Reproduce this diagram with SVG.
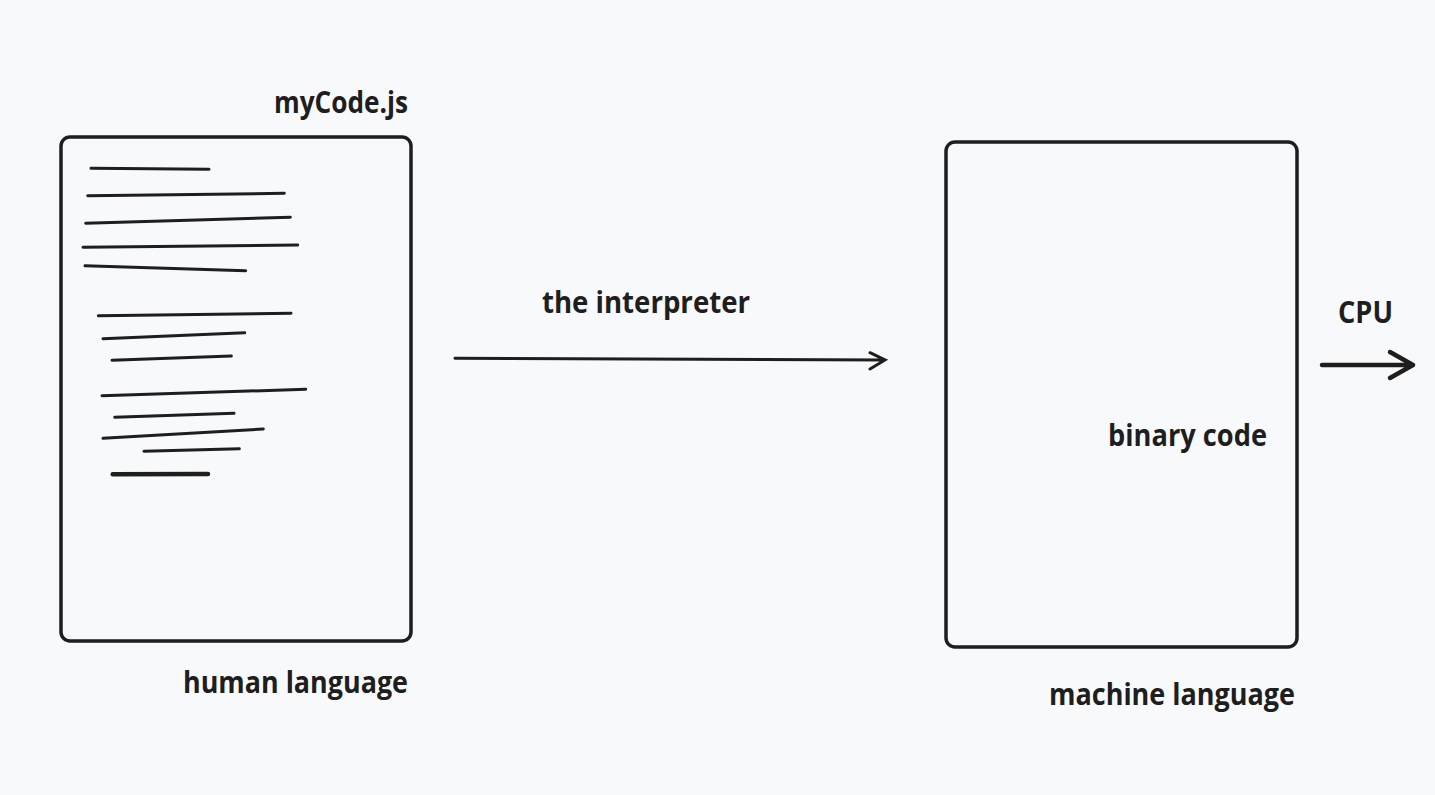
<svg xmlns="http://www.w3.org/2000/svg" width="1435" height="795" viewBox="0 0 1435 795">
<style>
.bg{fill:#f8f9fa}
.box{fill:none;stroke:#1e1e1e;stroke-width:3.5;stroke-linejoin:round}
.ln{fill:none;stroke:#1e1e1e;stroke-width:3;stroke-linecap:round}
.lbl{font-family:"Open Sans","Noto Sans",sans-serif;font-weight:700;fill:#1e1e1e;font-size:30px}
</style>
<rect class="bg" x="0" y="0" width="1435" height="795"/>
<g id="source-file">
<rect class="box" x="61" y="137" width="350" height="504" rx="9"/>
<text class="lbl" x="274" y="113" textLength="134" lengthAdjust="spacingAndGlyphs">myCode.js</text>
<g id="code-lines">
<line class="ln" x1="91" y1="168.3" x2="209" y2="169.3"/>
<line class="ln" x1="87.7" y1="195.7" x2="284.3" y2="193.3"/>
<line class="ln" x1="85.7" y1="223.3" x2="290.3" y2="217.3"/>
<line class="ln" x1="83" y1="247.3" x2="297.7" y2="245"/>
<line class="ln" x1="85" y1="265.7" x2="245.7" y2="270.7"/>
<line class="ln" x1="98.3" y1="315.7" x2="291" y2="313.3"/>
<line class="ln" x1="103" y1="338.7" x2="244.7" y2="332.7"/>
<line class="ln" x1="112" y1="360.3" x2="231.3" y2="356"/>
<line class="ln" x1="102" y1="395.7" x2="305.7" y2="389.3"/>
<line class="ln" x1="114.7" y1="417.3" x2="234" y2="413.3"/>
<line class="ln" x1="103" y1="438.3" x2="263.3" y2="429"/>
<line class="ln" x1="144" y1="451.3" x2="239.3" y2="448.7"/>
<line class="ln" x1="112.7" y1="474.3" x2="208" y2="474" style="stroke-width:4.5"/>
</g>
<text class="lbl" x="183" y="693" textLength="225" lengthAdjust="spacingAndGlyphs">human language</text>
</g>
<g id="binary-file">
<rect class="box" x="946" y="142" width="351" height="505" rx="9"/>
<text class="lbl" x="1108" y="446" textLength="159" lengthAdjust="spacingAndGlyphs">binary code</text>
<text class="lbl" x="1049" y="705" textLength="246" lengthAdjust="spacingAndGlyphs">machine language</text>
</g>
<g id="connectors">
<g id="interpreter-arrow">
<path class="ln" d="M455 358.3 L885 360 M870 352.7 L885 360 L870 369"/>
<text class="lbl" x="542" y="313" textLength="208" lengthAdjust="spacingAndGlyphs">the interpreter</text>
</g>
<g id="cpu-arrow">
<path class="ln" style="stroke-width:4.5;stroke-linejoin:round" d="M1322 365 L1413 365 M1390 352 L1413 365 L1390 378"/>
<text class="lbl" x="1338" y="323" textLength="55" lengthAdjust="spacingAndGlyphs">CPU</text>
</g>
</g>
</svg>
